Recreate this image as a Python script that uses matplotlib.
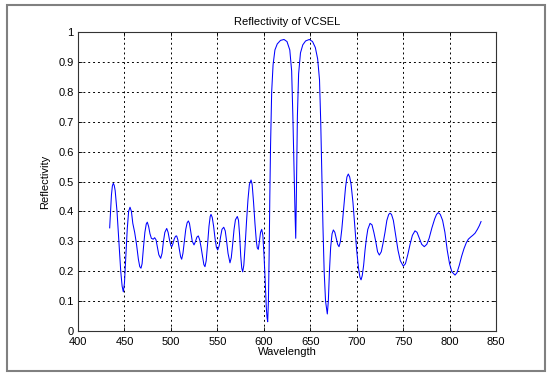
import matplotlib
matplotlib.use('Agg')
import matplotlib.pyplot as plt
from matplotlib.patches import Rectangle

# Puntos (longitud de onda en nm, reflectividad)
wavelength = [
    434.1, 435, 436, 437, 438, 439, 440, 442, 444, 446, 447.5, 448.8,
    450, 451.5, 453, 454.5, 456, 457.5, 459, 461, 463, 465, 466.5, 467.8,
    469, 470.5, 472, 473.5, 474.6, 476, 477.5, 479, 481, 482.5, 484,
    485.5, 487, 489, 490.5, 492, 493.5, 495.5, 497, 498.5, 500, 500.9,
    502, 503.5, 505, 506.2, 507.5, 509, 510.5, 511.6, 513, 514.5, 516,
    517.5, 518.8, 520, 521.5, 523, 524.9, 526.3, 528, 529.5, 531, 532.5,
    534, 535.5, 536.7, 538, 539.5, 541, 542.3, 543.2, 544.5, 546, 547.5,
    549, 550.4, 552, 553.5, 555, 556.9, 558.5, 560, 561.5, 563.6, 565,
    566.5, 568, 569.5, 571.5, 572.8, 574, 575.2, 576.3, 577.3, 578.5,
    580, 581.5, 583, 584.5, 586.3, 587.5, 589, 590.5, 592, 593, 594.1,
    595.3, 596.5, 597.8, 599, 600.3, 601.5, 602.7, 603.5, 604.2,
    605, 605.8, 606.5, 607.3, 608.5, 610, 612, 614.5, 618, 621.8, 625,
    628, 630, 631.3, 632.5, 633.6, 634.4, 635.2, 636.2, 637.5, 639.5,
    642, 645, 649, 652.5, 655.5, 658, 660, 661.3, 662.5, 663.7, 665,
    666.5, 668.4, 669.5, 670.7, 672, 673.5, 674.9, 676.5, 678, 679.5,
    681, 682.5, 684, 686, 688, 689.5, 691, 692.5, 694, 696, 698, 700,
    702, 703.5, 704.7, 706, 707.5, 709, 710.5, 712, 714.4, 716.5, 718.5,
    720.5, 722.5, 724.4, 726.5, 728.5, 730.5, 732.5, 734.5, 735.9, 737.5,
    739.5, 742, 744.5, 747, 750.2, 752.5, 755, 757.5, 760, 762.8, 765,
    767.5, 770, 772.8, 775.5, 778, 781, 784, 786, 787.9, 790, 792.5,
    795, 797.5, 800, 802.5, 805.9, 808, 810.5, 813, 815.5, 818, 820.2,
    823, 825, 827.4, 830, 832, 833.9,
]
reflectivity = [
    0.345, 0.40, 0.455, 0.485, 0.494, 0.487, 0.47, 0.40, 0.30, 0.20, 0.15, 0.131,
    0.16, 0.25, 0.34, 0.40, 0.414, 0.40, 0.36, 0.33, 0.29, 0.24, 0.215, 0.21,
    0.225, 0.28, 0.33, 0.358, 0.364, 0.35, 0.325, 0.31, 0.307, 0.312, 0.305,
    0.28, 0.255, 0.243, 0.26, 0.30, 0.33, 0.343, 0.33, 0.305, 0.285, 0.282,
    0.29, 0.307, 0.317, 0.318, 0.305, 0.275, 0.248, 0.24, 0.26, 0.30, 0.34,
    0.362, 0.368, 0.36, 0.33, 0.30, 0.288, 0.298, 0.314, 0.318, 0.305, 0.28,
    0.25, 0.222, 0.215, 0.235, 0.29, 0.35, 0.383, 0.39, 0.38, 0.35, 0.31,
    0.28, 0.271, 0.285, 0.315, 0.34, 0.347, 0.335, 0.30, 0.26, 0.228, 0.245,
    0.29, 0.34, 0.372, 0.383, 0.37, 0.32, 0.25, 0.21, 0.198, 0.22,
    0.29, 0.37, 0.44, 0.49, 0.505, 0.49, 0.43, 0.36, 0.30, 0.278, 0.273,
    0.30, 0.33, 0.34, 0.32, 0.25, 0.17, 0.08, 0.045, 0.031,
    0.10, 0.26, 0.45, 0.62, 0.80, 0.89, 0.94, 0.96, 0.972, 0.975, 0.968,
    0.94, 0.87, 0.72, 0.55, 0.40, 0.31, 0.48, 0.72, 0.86, 0.93,
    0.957, 0.970, 0.975, 0.968, 0.948, 0.91, 0.84, 0.70, 0.52, 0.35, 0.20,
    0.10, 0.057, 0.10, 0.20, 0.28, 0.325, 0.338, 0.33, 0.31, 0.29,
    0.282, 0.30, 0.34, 0.41, 0.48, 0.515, 0.525, 0.515, 0.49, 0.43, 0.35, 0.27,
    0.21, 0.18, 0.171, 0.185, 0.22, 0.27, 0.31, 0.34, 0.36, 0.355, 0.33,
    0.30, 0.265, 0.254, 0.265, 0.295, 0.33, 0.37, 0.39, 0.394, 0.39,
    0.37, 0.32, 0.27, 0.235, 0.217, 0.225, 0.255, 0.29, 0.32, 0.335, 0.33,
    0.31, 0.29, 0.282, 0.29, 0.31, 0.345, 0.375, 0.39, 0.396, 0.39, 0.37,
    0.33, 0.27, 0.225, 0.198, 0.187, 0.195, 0.22, 0.25, 0.275, 0.295, 0.307,
    0.315, 0.32, 0.327, 0.34, 0.352, 0.366,
]

x_ticks = [400, 450, 500, 550, 600, 650, 700, 750, 800, 850]
y_ticks = [0, 0.1, 0.2, 0.3, 0.4, 0.5, 0.6, 0.7, 0.8, 0.9, 1]

plt.rcParams.update({'font.family': 'Liberation Sans', 'font.size': 8})

fig = plt.figure(figsize=(5.5, 3.77), dpi=100)
ax = fig.add_axes([78/550, 1 - 331/377, 418/550, 299/377])

ax.plot(wavelength, reflectivity, color='#0000ff', lw=0.75)

ax.set_xlim(400, 850)
ax.set_ylim(0, 1)
ax.set_xticks(x_ticks)
ax.set_yticks(y_ticks)
ax.set_yticklabels(['%g' % v for v in y_ticks])
ax.tick_params(direction='in', top=True, right=True, length=3, width=0.6)
ax.tick_params(axis='x', pad=4)
ax.tick_params(axis='y', pad=3)
ax.grid(True, color='black', linestyle=(0, (2, 3)), linewidth=0.7)
for s in ax.spines.values():
    s.set_linewidth(0.8)
    s.set_color('#333333')

ax.set_title('Reflectivity of VCSEL', fontsize=8, pad=5)
ax.set_xlabel('Wavelength', fontsize=8, labelpad=0)
ax.set_ylabel('Reflectivity', fontsize=8, labelpad=6)

# marco gris alrededor de la figura
fig.patches.append(Rectangle((7/550, 6/377), 538/550, 366/377, transform=fig.transFigure,
                             fill=False, edgecolor='#808080', lw=1.5))

fig.savefig('out.png', dpi=100)
